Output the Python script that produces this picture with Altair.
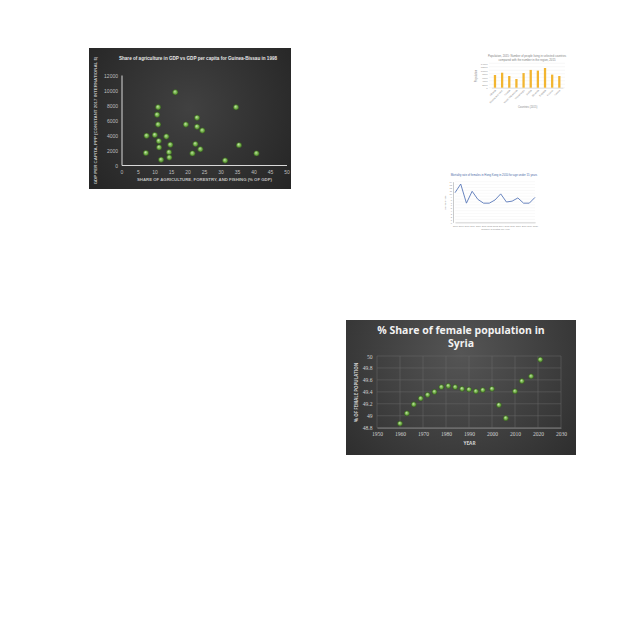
import altair as alt
import pandas as pd

# ---------------- Panel A: scatter (dark) ----------------
a_title = "Share of agriculture in GDP vs GDP per capita for Guinea-Bissau in 1998"
a_x_title = "SHARE OF AGRICULTURE, FORESTRY, AND FISHING (% OF GDP)"
a_y_title = "GDP PER CAPITA, PPP (CONSTANT 2017 INTERNATIONAL $)"
agri_share = [16.3, 11.1, 34.7, 10.8, 22.9, 11.1, 19.5, 22.9, 24.5, 10.1, 7.6, 13.6,
              11.3, 14.8, 22.4, 35.6, 11.4, 23.9, 7.4, 14.4, 21.5, 40.9, 14.5, 12.0, 31.4]
gdp_pc = [9700, 7700, 7700, 6700, 6300, 5400, 5400, 5100, 4600, 4000, 3900, 3800,
          3200, 2700, 2800, 2650, 2350, 2100, 1600, 1700, 1550, 1550, 1000, 700, 600]
a_x_ticks = [0, 5, 10, 15, 20, 25, 30, 35, 40, 45, 50]
a_y_ticks = [0, 2000, 4000, 6000, 8000, 10000, 12000]

# ---------------- Panel B: bar chart ----------------
b_title = ["Population, 2015: Number of people living in selected countries",
           "compared with the number in the region, 2015"]
b_x_title = "Countries (2015)"
b_y_title = "Population"
b_categories = ["Albania", "Bosnia and Herz.", "Croatia", "North Macedonia",
                "Montenegro", "Serbia", "Slovenia", "Bulgaria", "Kosovo", "Greece"]
b_values = [7300, 8600, 6700, 5000, 8400, 10200, 9800, 11300, 7500, 6700]
b_y_ticks = [0, 2000, 4000, 6000, 8000, 10000, 12000, 14000]

# ---------------- Panel C: line chart ----------------
c_title = "Mortality rate of females in Hong Kong in 2010 for age under 15 years"
c_x_title = "Number of deaths per year"
c_y_title = "Mortality rate"
c_years = [2006, 2007, 2008, 2009, 2010, 2011, 2012, 2013, 2014, 2015, 2016, 2017, 2018, 2019, 2020]
c_values = [10.2, 13.2, 6.6, 10.7, 7.9, 6.6, 6.6, 7.7, 9.8, 7.0, 7.3, 8.4, 6.6, 6.6, 8.6]
c_y_ticks = [0, 1, 2, 3, 4, 5, 6, 7, 8, 9, 10, 11, 12, 13, 14]

# ---------------- Panel D: scatter (dark) ----------------
d_title = ["% Share of female population in", "Syria"]
d_x_title = "YEAR"
d_y_title = "% OF FEMALE POPULATION"
d_years = [1960, 1963, 1966, 1969, 1972, 1975, 1978, 1981, 1984, 1987,
           1990, 1993, 1996, 2000, 2003, 2006, 2010, 2013, 2017, 2021]
d_share = [48.87, 49.04, 49.19, 49.29, 49.35, 49.40, 49.48, 49.50, 49.48, 49.45,
           49.44, 49.41, 49.43, 49.45, 49.18, 48.96, 49.41, 49.58, 49.66, 49.94]
d_x_ticks = [1950, 1960, 1970, 1980, 1990, 2000, 2010, 2020, 2030]
d_y_ticks = [48.8, 49.0, 49.2, 49.4, 49.6, 49.8, 50.0]

H = 640
one = pd.DataFrame({"k": [0]})

green = alt.Gradient(gradient="radial",
                     stops=[alt.GradientStop(color="#d6ecc4", offset=0),
                            alt.GradientStop(color="#78b84c", offset=0.45),
                            alt.GradientStop(color="#4a7a2c", offset=1)],
                     x1=0.4, y1=0.35, r1=0, x2=0.5, y2=0.5, r2=0.6)

# ---------- A ----------
bgA = alt.Chart(one).mark_rect(
    fill=alt.Gradient(gradient="radial",
                      stops=[alt.GradientStop(color="#414141", offset=0),
                             alt.GradientStop(color="#202020", offset=1)],
                      x1=0.5, y1=0.45, r1=0, x2=0.5, y2=0.45, r2=0.75)
).encode(x=alt.value(89), x2=alt.value(291), y=alt.value(48), y2=alt.value(189))

xsA = alt.Scale(domain=[a_x_ticks[0], a_x_ticks[-1]], range=[121.5, 286.5], nice=False, zero=False)
ysA = alt.Scale(domain=[a_y_ticks[0], a_y_ticks[-1]], range=[165, 75], nice=False, zero=False)

ptsA = alt.Chart(pd.DataFrame({"share": agri_share, "gdp": gdp_pc})).mark_circle(
    size=30, opacity=1, fill=green, stroke="#2f4a1f", strokeWidth=0.5
).encode(
    x=alt.X("share:Q", scale=xsA, axis=alt.Axis(
        orient="bottom", offset=165 - H, values=a_x_ticks, grid=False, ticks=False, zindex=2,
        domainColor="#d9d9d9", domainWidth=1, labelColor="#bfbfbf", labelFontSize=5,
        labelFont="Liberation Sans", labelPadding=4, labelFlush=False, labelOverlap=False,
        format="d",
        title=a_x_title, titleFont="Liberation Sans", titleFontSize=4.3, titleFontWeight="bold",
        titleColor="#bfbfbf", titlePadding=3)),
    y=alt.Y("gdp:Q", scale=ysA, axis=alt.Axis(
        orient="left", offset=-121.5, values=a_y_ticks, grid=False, ticks=False, zindex=2,
        domainColor="#d9d9d9", domainWidth=1, labelColor="#bfbfbf", labelFontSize=5,
        labelFont="Liberation Sans", labelPadding=4, labelFlush=False, labelOverlap=False,
        format="d",
        title=a_y_title, titleFont="Liberation Sans", titleFontSize=4.4, titleFontWeight="bold",
        titleColor="#bfbfbf", titlePadding=6)),
)

titleA = alt.Chart(one).mark_text(
    font="Liberation Sans", fontSize=4.6, fontWeight="bold", color="#e6e6e6", align="center"
).encode(x=alt.value(198), y=alt.value(59), text=alt.value(a_title))

# ---------- B ----------
xsB = alt.Scale(domain=b_categories, range=[491.4, 562.9], paddingInner=0.68, paddingOuter=0.34)
ysB = alt.Scale(domain=[b_y_ticks[0], b_y_ticks[-1]], range=[87.7, 63.3], nice=False, zero=False)

gridB = alt.Chart(pd.DataFrame({"t": b_y_ticks})).mark_rule(color="#ececec", strokeWidth=0.4).encode(
    y=alt.Y("t:Q", scale=ysB, axis=None),
    x=alt.value(489), x2=alt.value(565))

barsB = alt.Chart(pd.DataFrame({"cat": b_categories, "val": b_values})).mark_bar(color="#f2b530").encode(
    x=alt.X("cat:N", sort=None, scale=xsB, axis=alt.Axis(
        orient="bottom", offset=87.7 - H, labelAngle=-45, ticks=False, domainColor="#bfbfbf",
        domainWidth=0.5, labelColor="#8c8c8c", labelFontSize=2.4, labelPadding=1,
        labelOverlap=False, title=b_x_title, titleFontSize=2.6, titleColor="#8c8c8c",
        titleFontWeight="normal", titlePadding=2)),
    y=alt.Y("val:Q", scale=ysB, axis=alt.Axis(
        orient="left", offset=-488, values=b_y_ticks, grid=False, ticks=False, domain=False,
        labelColor="#8c8c8c", labelFontSize=2.4, labelPadding=1, labelOverlap=False,
        labelFlush=False, format="d", title=b_y_title, titleFontSize=2.6, titleColor="#8c8c8c",
        titleFontWeight="normal", titlePadding=2)),
)

titleB = alt.Chart(one).mark_text(fontSize=2.8, color="#7f7f7f", align="center", lineHeight=3.6).encode(
    x=alt.value(527), y=alt.value(56), text=alt.value(b_title))

# ---------- C ----------
xsC = alt.Scale(domain=[c_years[0], c_years[-1]], range=[455, 535], nice=False, zero=False)
ysC = alt.Scale(domain=[c_y_ticks[0], c_y_ticks[-1]], range=[222.3, 181.7], nice=False, zero=False)

gridC = alt.Chart(pd.DataFrame({"t": c_y_ticks})).mark_rule(color="#f0f0f0", strokeWidth=0.4).encode(
    y=alt.Y("t:Q", scale=ysC, axis=None),
    x=alt.XDatum(c_years[0], scale=xsC, axis=None), x2=alt.X2Datum(c_years[-1]))

lineC = alt.Chart(pd.DataFrame({"yr": c_years, "v": c_values})).mark_line(
    color="#5877b8", strokeWidth=0.9
).encode(
    x=alt.X("yr:Q", scale=xsC, axis=alt.Axis(
        orient="bottom", offset=222.3 - H, values=c_years, grid=False, ticks=False,
        domainColor="#a6a6a6", domainWidth=0.6, labelColor="#8c8c8c", labelFontSize=2.2,
        labelPadding=2, labelFlush=False, labelOverlap=False, format="d",
        title=c_x_title, titleFontSize=2.4, titleColor="#8c8c8c", titleFontWeight="normal",
        titlePadding=1.5)),
    y=alt.Y("v:Q", scale=ysC, axis=alt.Axis(
        orient="left", offset=-453, values=c_y_ticks, grid=False, ticks=False,
        domainColor="#a6a6a6", domainWidth=0.6, labelColor="#8c8c8c", labelFontSize=2.2,
        labelPadding=1.5, labelFlush=False, labelOverlap=False,
        title=c_y_title, titleFontSize=2.4, titleColor="#8c8c8c", titleFontWeight="normal",
        titlePadding=2)),
)

titleC = alt.Chart(one).mark_text(fontSize=2.8, color="#4a6aa8", align="center").encode(
    x=alt.value(494), y=alt.value(174.5), text=alt.value(c_title))

# ---------- D ----------
bgD = alt.Chart(one).mark_rect(
    fill=alt.Gradient(gradient="radial",
                      stops=[alt.GradientStop(color="#555555", offset=0),
                             alt.GradientStop(color="#262626", offset=1)],
                      x1=0.5, y1=0.35, r1=0, x2=0.5, y2=0.35, r2=0.8)
).encode(x=alt.value(346), x2=alt.value(576), y=alt.value(320), y2=alt.value(455))

xsD = alt.Scale(domain=[d_x_ticks[0], d_x_ticks[-1]], range=[377, 561], nice=False, zero=False)
ysD = alt.Scale(domain=[d_y_ticks[0], d_y_ticks[-1]], range=[427.7, 356], nice=False, zero=False)

gridDv = alt.Chart(pd.DataFrame({"t": d_x_ticks})).mark_rule(color="#6b6b6b", strokeWidth=0.5).encode(
    x=alt.X("t:Q", scale=xsD, axis=None),
    y=alt.YDatum(d_y_ticks[0], scale=ysD, axis=None), y2=alt.Y2Datum(d_y_ticks[-1]))
gridDh = alt.Chart(pd.DataFrame({"t": d_y_ticks})).mark_rule(color="#6b6b6b", strokeWidth=0.5).encode(
    y=alt.Y("t:Q", scale=ysD, axis=None),
    x=alt.XDatum(d_x_ticks[0], scale=xsD, axis=None), x2=alt.X2Datum(d_x_ticks[-1]))

ptsD = alt.Chart(pd.DataFrame({"yr": d_years, "sh": d_share})).mark_circle(
    size=26, opacity=1, fill=green, stroke="#2f4a1f", strokeWidth=0.5
).encode(
    x=alt.X("yr:Q", scale=xsD, axis=alt.Axis(
        orient="bottom", offset=427.7 - H, values=d_x_ticks, grid=False, ticks=False, zindex=2,
        domainColor="#8c8c8c", domainWidth=0.8, labelColor="#d0d0d0", labelFontSize=5.6,
        labelFont="Liberation Serif", labelPadding=4, labelFlush=False, labelOverlap=False,
        format="d", title=d_x_title, titleFont="Open Sans", titleFontSize=4.8,
        titleFontWeight="bold", titleColor="#d0d0d0", titlePadding=3)),
    y=alt.Y("sh:Q", scale=ysD, axis=alt.Axis(
        orient="left", offset=-377, values=d_y_ticks, grid=False, ticks=False, domain=False, zindex=2,
        labelColor="#d0d0d0", labelFontSize=5.6, labelFont="Liberation Serif", labelPadding=5,
        labelFlush=False, labelOverlap=False, format="~g",
        title=d_y_title, titleFont="Open Sans", titleFontSize=4.4, titleFontWeight="bold",
        titleColor="#d0d0d0", titlePadding=4)),
)

titleD = alt.Chart(one).mark_text(
    font="Open Sans", fontSize=10.5, fontWeight="bold", color="#f2f2f2", align="center",
    lineHeight=12.5
).encode(x=alt.value(461), y=alt.value(331), text=alt.value(d_title))

chart = alt.layer(
    bgA, ptsA, titleA,
    gridB, barsB, titleB,
    gridC, lineC, titleC,
    bgD, gridDv, gridDh, ptsD, titleD,
).resolve_scale(
    x="independent", y="independent"
).resolve_axis(
    x="independent", y="independent"
).properties(
    width=640, height=640, autosize="none", padding=0, background="#ffffff"
).configure_view(stroke=None)

chart.save("out.html", embed_options={"renderer": "svg", "actions": False})
